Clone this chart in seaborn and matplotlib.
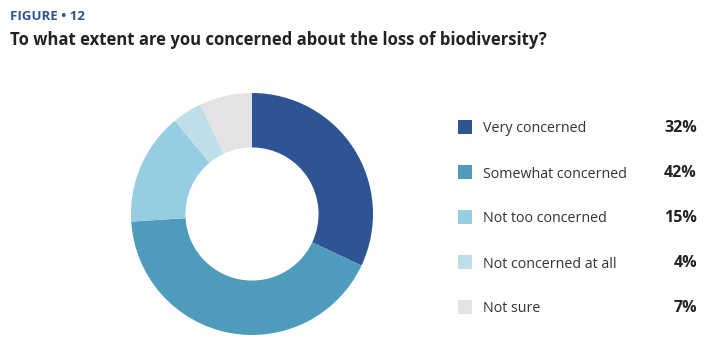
import matplotlib
matplotlib.use("Agg")
import matplotlib.pyplot as plt
from matplotlib.patches import Rectangle
import seaborn as sns

categories = ["Very concerned", "Somewhat concerned", "Not too concerned",
              "Not concerned at all", "Not sure"]
values = [32, 42, 15, 4, 7]
value_labels = ["32%", "42%", "15%", "4%", "7%"]
colors = ["#2F5493", "#4E9BBB", "#97CDE2", "#BEDFE8", "#E3E3E3"]

sns.set_theme(style="white")
plt.rcParams['font.family'] = ['Open Sans', 'DejaVu Sans']

W, H = 716, 350
fig = plt.figure(figsize=(W / 100, H / 100), dpi=100)
fig.patch.set_facecolor("white")

cx, cy, r = 252, 214, 121
ax = fig.add_axes([(cx - r) / W, (H - cy - r) / H, 2 * r / W, 2 * r / H])
ax.pie(values, colors=sns.color_palette(colors), startangle=90, counterclock=False,
       radius=1, wedgeprops=dict(width=0.45, edgecolor="none", linewidth=0))
ax.set_xlim(-1, 1)
ax.set_ylim(-1, 1)
ax.set_aspect("equal")
ax.axis("off")

fig.text(10 / W, 1 - 16 / H, "FIGURE • 12", color="#2F5493", fontsize=9.5,
         fontweight="bold", va="center", ha="left")
fig.text(10 / W, 1 - 40 / H, "To what extent are you concerned about the loss of biodiversity?",
         color="#222222", fontsize=12, fontweight="bold", va="center", ha="left")

y0, dy = 127, 45
for i, (cat, lab, col) in enumerate(zip(categories, value_labels, colors)):
    y = y0 + i * dy
    fig.patches.append(Rectangle(((458) / W, 1 - (y + 7) / H), 14 / W, 14 / H,
                                 transform=fig.transFigure, facecolor=col,
                                 edgecolor="none", figure=fig))
    fig.text(483 / W, 1 - (y + 2) / H, cat, color="#333333", fontsize=10.3,
             va="center", ha="left")
    fig.text(697 / W, 1 - (y + 1) / H, lab, color="#222222", fontsize=11.5,
             fontweight="bold", va="center", ha="right")

fig.savefig("out.png", dpi=100)
